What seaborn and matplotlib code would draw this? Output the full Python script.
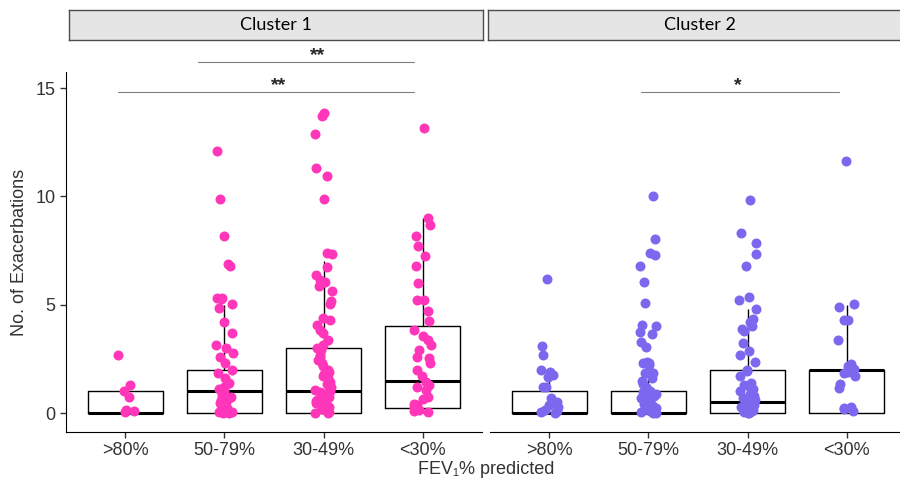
import numpy as np
import pandas as pd
import matplotlib
matplotlib.use("Agg")
import matplotlib.pyplot as plt
import seaborn as sns

sns.set_style("white")
plt.rcParams["font.family"] = ["Liberation Sans", "DejaVu Sans"]

categories = [">80%", "50-79%", "30-49%", "<30%"]
clusters = ["Cluster 1", "Cluster 2"]

# exacerbation counts (jittered points)
c1_gt80 = [2.7, 1.3, 1.0, 0.75, 0.1, 0.15, 0.05]
c1_50_79 = [12.1, 9.9, 8.15, 6.9, 6.8, 5.3, 5.3, 5.25, 5.05, 4.85, 4.2, 3.7, 3.15, 3.0,
            2.75, 2.6, 2.3, 2.0, 1.85, 1.6, 1.4, 1.35, 1.2, 1.1, 1.0, 0.95, 0.9, 0.85,
            0.75, 0.7, 0.6, 0.5, 0.45, 0.4, 0.3, 0.25, 0.2, 0.15, 0.1, 0.1, 0.05, 0.05,
            0.0, 0.0, 0.35, 0.65]
c1_30_49 = [13.85, 13.7, 12.9, 11.3, 10.95, 9.9, 7.4, 7.35, 6.75, 6.35, 6.15, 6.05, 5.85,
            5.65, 5.15, 5.05, 4.4, 4.3, 4.05, 3.85, 3.7, 3.35, 3.15, 3.0, 2.9, 2.7, 2.6,
            2.45, 2.3, 2.15, 2.0, 1.9, 1.8, 1.7, 1.6, 1.45, 1.35, 1.25, 1.2, 1.05, 1.0,
            0.95, 0.85, 0.75, 0.7, 0.6, 0.5, 0.45, 0.35, 0.3, 0.25, 0.15, 0.1, 0.05, 0.0,
            0.0, 0.2, 0.4, 0.55, 0.9]
c1_lt30 = [13.15, 9.0, 8.7, 8.15, 7.7, 7.25, 6.8, 6.0, 5.2, 5.2, 4.7, 4.25, 3.85, 3.55,
           3.35, 3.15, 2.9, 2.6, 2.55, 2.3, 2.0, 1.7, 1.45, 1.3, 1.2, 1.05, 0.75, 0.65,
           0.35, 0.3, 0.15, 0.05, 0.1, 0.4]

c2_gt80 = [6.2, 3.1, 2.7, 2.0, 1.9, 1.75, 1.65, 1.2, 1.2, 0.7, 0.5, 0.3, 0.15, 0.05, 0.0,
           0.1, 0.35]
c2_50_79 = [10.0, 8.05, 7.4, 7.3, 6.8, 6.05, 5.1, 4.05, 4.0, 3.75, 3.65, 3.3, 3.05, 2.35,
            2.3, 2.3, 2.2, 1.85, 1.85, 1.5, 1.35, 1.2, 1.1, 0.95, 0.9, 0.8, 0.7, 0.65,
            0.55, 0.45, 0.4, 0.3, 0.25, 0.2, 0.15, 0.1, 0.05, 0.05, 0.0, 0.0, 1.0, 0.6,
            0.35, 1.6]
c2_30_49 = [9.85, 8.3, 7.85, 7.35, 6.8, 5.35, 5.2, 4.8, 4.35, 4.2, 4.0, 3.9, 3.8, 3.25,
            2.85, 2.7, 2.35, 2.0, 1.95, 1.7, 1.4, 1.1, 0.9, 0.7, 0.45, 0.3, 0.15, 0.0,
            0.05, 0.1, 0.2, 0.25, 0.35, 0.5, 0.6, 0.8, 1.0, 1.2, 1.3, 0.1, 0.0]
c2_lt30 = [11.65, 5.05, 4.9, 4.3, 4.3, 3.35, 2.25, 2.15, 2.05, 1.9, 1.85, 1.7, 1.35, 1.15,
           0.3, 0.2, 0.25, 0.1]

# box summaries per group: lower whisker, q1, median, q3, upper whisker
c1_box = [[0, 0, 0, 1, 1], [0, 0, 1, 2, 5], [0, 0, 1, 3, 7], [0, 0.25, 1.5, 4, 9]]
c2_box = [[0, 0, 0, 1, 1.5], [0, 0, 0, 1, 2.3], [0, 0, 0.5, 2, 4.8], [0, 0, 2, 2, 5]]

points = {"Cluster 1": [c1_gt80, c1_50_79, c1_30_49, c1_lt30],
          "Cluster 2": [c2_gt80, c2_50_79, c2_30_49, c2_lt30]}
boxes = {"Cluster 1": c1_box, "Cluster 2": c2_box}

pts_rows = []
box_rows = []
for cl in clusters:
    for cat, vals, stats in zip(categories, points[cl], boxes[cl]):
        pts_rows += [(cl, cat, v) for v in vals]
        box_rows += [(cl, cat, v) for v in stats]
df_pts = pd.DataFrame(pts_rows, columns=["cluster", "fev", "value"])
df_box = pd.DataFrame(box_rows, columns=["cluster", "fev", "value"])

colors = {"Cluster 1": "#FF36B9", "Cluster 2": "#7B68EE"}

#%%
fig = plt.figure(figsize=(9, 4.83), dpi=100)
W, H = 900, 483
ax1 = fig.add_axes([66 / W, 51 / H, 416 / W, 360 / H])
ax2 = fig.add_axes([490 / W, 51 / H, 416 / W, 360 / H])

np.random.seed(7)
for ax, cl in zip([ax1, ax2], clusters):
    sns.boxplot(data=df_box[df_box["cluster"] == cl], x="fev", y="value", order=categories,
                width=0.76, whis=(0, 100), showfliers=False, showcaps=False, fill=False,
                color="black", linewidth=1, medianprops={"linewidth": 2.2}, ax=ax)
    sns.stripplot(data=df_pts[df_pts["cluster"] == cl], x="fev", y="value", order=categories,
                  color=colors[cl], size=7.2, jitter=0.09, linewidth=0, zorder=3, ax=ax)
    ax.set_xlim(-0.6, 3.6)
    ax.set_ylim(-0.877, 15.74)
    ax.set_xlabel("")
    ax.set_ylabel("")
    for s in ["top", "right"]:
        ax.spines[s].set_visible(False)
    ax.spines["bottom"].set_color("black")
    ax.spines["left"].set_color("black")
    ax.tick_params(axis="both", labelsize=13, labelcolor="#333333", color="#333333",
                   length=4, width=1, bottom=True, left=True)

ax1.set_yticks([0, 5, 10, 15])
ax2.set_yticks([])
ax2.spines["left"].set_visible(False)

# facet strips
for x0, x1, label in [(69, 483, "Cluster 1"), (488, 912, "Cluster 2")]:
    sax = fig.add_axes([x0 / W, (H - 40) / H, (x1 - x0) / W, 30 / H])
    sax.set_facecolor("#E5E5E5")
    sax.set_xticks([])
    sax.set_yticks([])
    for s in sax.spines.values():
        s.set_color("#4d4d4d")
        s.set_linewidth(1)
    sax.text(0.5, 0.5, label, ha="center", va="center", fontsize=13,
             family=["Lato", "DejaVu Sans"], color="black")

# significance brackets
sig_color = "#808080"
for ax, xa, xb, y, xs, star in [(ax1, 0.73, 2.91, 16.2, 1.94, "**"),
                                (ax1, -0.075, 2.91, 14.81, 1.55, "**"),
                                (ax2, 0.925, 2.92, 14.81, 1.9, "*")]:
    ax.plot([xa, xb], [y, y], color=sig_color, lw=0.8, clip_on=False)
    ax.text(xs, y - 0.1, star, ha="center", va="bottom", fontsize=14, fontweight="bold",
            clip_on=False)

fig.text(486 / W, 1 - 469 / H, "FEV\u2081% predicted", ha="center", va="center",
         fontsize=13, color="#333333")
fig.text(20 / W, 1 - 252 / H, "No. of Exacerbations", ha="center", va="center",
         rotation=90, fontsize=13, color="#333333")

plt.savefig("out.png", dpi=100)
